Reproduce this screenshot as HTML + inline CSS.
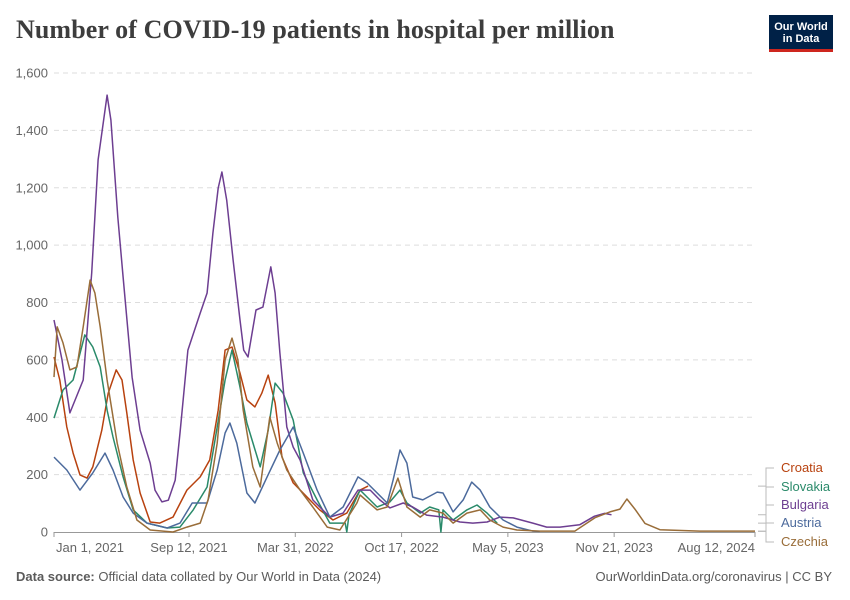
<!DOCTYPE html>
<html><head><meta charset="utf-8">
<style>
body{margin:0;background:#fff;font-family:"Liberation Sans",sans-serif;}
#wrap{position:relative;width:850px;height:600px;overflow:hidden;}
.title{position:absolute;left:16px;top:15px;font-family:"Liberation Serif",serif;font-weight:bold;font-size:26px;color:#3d3d3d;letter-spacing:0.1px;}
.logo{position:absolute;left:769px;top:15px;width:64px;height:37px;background:#002147;color:#fff;font-size:11px;font-weight:bold;line-height:12px;text-align:center;box-sizing:border-box;padding-top:6px;border-bottom:3px solid #ce261e;}
.foot{position:absolute;top:569px;font-size:13px;color:#5b5b5b;}
</style></head><body>
<div id="wrap">
<div class="title">Number of COVID-19 patients in hospital per million</div>
<div class="logo">Our World<br>in Data</div>
<svg id="chart" width="850" height="600" style="position:absolute;left:0;top:0"></svg>
<div class="foot" style="left:16px"><b>Data source:</b> Official data collated by Our World in Data (2024)</div>
<div class="foot" style="right:18px">OurWorldinData.org/coronavirus | CC BY</div>
</div>
<script>
// days since Jan 1, 2021 and values (patients per million)
const yTicks=[0,200,400,600,800,1000,1200,1400,1600];
const xTickDays=[0,254,454,654,854,1054,1319];
const xTickLabels=["Jan 1, 2021","Sep 12, 2021","Mar 31, 2022","Oct 17, 2022","May 5, 2023","Nov 21, 2023","Aug 12, 2024"];
const croatiaDays=[0,11,24,36,49,62,73,90,102,117,128,137,149,162,181,199,224,250,275,293,309,322,335,350,363,378,391,403,416,429,450,476,500,525,551,576,591];
const croatiaVals=[610,530,366,275,199,188,227,355,484,565,530,415,251,136,35,31,52,146,192,251,425,634,645,554,460,436,484,547,450,261,171,122,77,42,66,146,160];
const slovakiaDays=[0,17,36,58,73,87,100,111,130,149,175,213,237,262,288,307,322,335,350,363,388,403,416,431,450,469,495,519,538,548,551,555,570,576,608,632,651,664,689,707,724,728,732,751,777,796,815,834];
const slovakiaVals=[397,495,530,687,645,575,425,331,192,77,31,14,17,77,157,366,530,634,505,380,227,355,519,484,390,206,112,31,31,31,0,60,122,146,87,105,146,101,66,87,77,0,77,42,77,94,66,31];
const bulgariaDays=[0,15,30,55,71,83,100,107,120,130,147,162,181,190,203,215,228,237,252,275,288,299,309,316,325,337,350,357,365,380,393,408,416,425,438,450,463,487,519,544,572,595,613,632,657,675,701,732,764,788,815,839,864,901,927,952,989,1017,1036,1049];
const bulgariaVals=[739,600,415,530,903,1297,1523,1436,1098,889,540,355,240,146,105,111,181,345,634,763,833,1042,1199,1255,1157,948,739,634,610,774,784,924,833,624,366,296,251,112,52,66,146,146,112,84,101,87,59,52,35,31,35,52,49,31,17,17,25,55,65,60];
const austriaDays=[0,24,49,73,96,111,130,149,175,213,237,260,288,307,322,331,344,363,378,401,425,450,469,495,519,544,572,589,627,638,651,664,675,694,721,732,751,770,786,802,820,845,871,901,914];
const austriaVals=[261,216,146,206,275,216,122,66,31,14,31,101,101,216,345,380,310,136,101,192,286,366,275,146,52,87,192,171,101,181,286,240,122,112,139,136,70,112,174,146,87,42,17,3,2];
const czechiaDays=[0,6,17,30,43,55,68,77,87,100,119,137,156,181,224,250,275,290,307,322,335,346,356,374,388,406,420,438,463,487,514,538,570,576,608,627,647,664,689,707,732,751,777,802,820,845,871,914,980,1018,1046,1065,1078,1093,1112,1140,1215,1319];
const czechiaVals=[540,715,659,565,575,715,878,833,715,530,310,157,42,7,0,17,31,112,310,600,676,600,425,227,157,401,310,216,146,87,17,7,101,129,77,87,188,87,52,77,66,31,66,77,42,17,7,3,3,50,70,80,115,80,30,8,3,3];
const series=[
 {name:"Croatia",days:croatiaDays,vals:croatiaVals,color:"#b8420f",ly:472},
 {name:"Slovakia",days:slovakiaDays,vals:slovakiaVals,color:"#2a8a6a",ly:491},
 {name:"Bulgaria",days:bulgariaDays,vals:bulgariaVals,color:"#6d3e91",ly:509},
 {name:"Austria",days:austriaDays,vals:austriaVals,color:"#4c6a9c",ly:527},
 {name:"Czechia",days:czechiaDays,vals:czechiaVals,color:"#996d39",ly:546}
];
const X0=54,X1=755,Y0=532,Y1=73;
const xs=d=>X0+d*(X1-X0)/1319;
const ys=v=>Y0-v*(Y0-Y1)/1600;
const svg=document.getElementById('chart');
const NS="http://www.w3.org/2000/svg";
function mk(t,a){const e=document.createElementNS(NS,t);for(const k in a)e.setAttribute(k,a[k]);svg.appendChild(e);return e;}
yTicks.forEach(v=>{
 if(v>0){const g=mk('line',{x1:X0,x2:X1,y1:ys(v),y2:ys(v),stroke:'#dddddd','stroke-dasharray':'5,4'});
 
 }
 const t=mk('text',{x:48,y:ys(v)+4.5,'text-anchor':'end','font-size':13,fill:'#666','font-family':'Liberation Sans, sans-serif'});
 t.textContent=v.toLocaleString('en-US');
 
 
});
const ax=mk('line',{x1:X0,x2:X1,y1:Y0+0.5,y2:Y0+0.5,stroke:'#999'});


xTickDays.forEach((d,i)=>{
 const tk=mk('line',{x1:xs(d),x2:xs(d),y1:Y0,y2:Y0+5,stroke:'#999'});
 
 
 const anchor=i==0?'start':(i==xTickDays.length-1?'end':'middle');
 const t=mk('text',{x:i==0?xs(d)+2:xs(d),y:Y0+20,'text-anchor':anchor,'font-size':13,fill:'#666','font-family':'Liberation Sans, sans-serif'});
 t.textContent=xTickLabels[i];
 
 
});
series.forEach(s=>{
 const pts=s.days.map((d,i)=>xs(d).toFixed(1)+','+ys(s.vals[i]).toFixed(1)).join(' ');
 const p=mk('polyline',{points:pts,fill:'none',stroke:s.color,'stroke-width':1.5,'stroke-linejoin':'round'});
 
 
 const lastV=s.vals[s.vals.length-1];
 const ey=ys(lastV);
 const c=mk('path',{d:`M758,${ey} H766 V${s.ly-4} H774`,fill:'none',stroke:'#bbb','stroke-width':1});
 
 
 const t=mk('text',{x:781,y:s.ly,'font-size':13,fill:s.color,'font-family':'Liberation Sans, sans-serif'});
 t.textContent=s.name;
 
 
});
</script>
</body></html>
